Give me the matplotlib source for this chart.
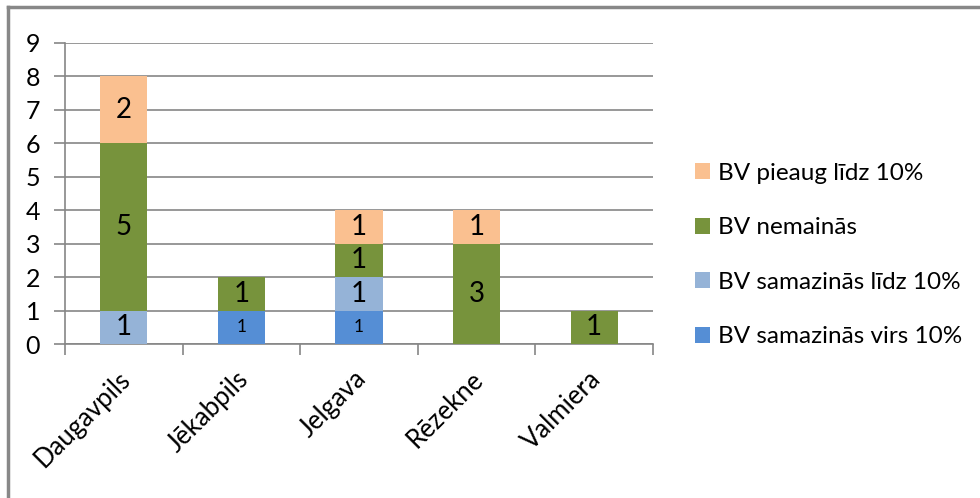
import matplotlib
matplotlib.use("Agg")
import matplotlib.pyplot as plt
import numpy as np
from matplotlib.lines import Line2D
from matplotlib.patches import Patch
from matplotlib.transforms import ScaledTranslation

plt.rcParams['font.family'] = ['Lato', 'DejaVu Sans']

cities = ["Daugavpils", "Jēkabpils", "Jelgava", "Rēzekne", "Valmiera"]
series_names = ["BV samazinās virs 10%", "BV samazinās līdz 10%", "BV nemainās", "BV pieaug līdz 10%"]
samazinas_virs = [0, 1, 1, 0, 0]
samazinas_lidz = [1, 0, 1, 0, 0]
nemainas = [5, 1, 1, 3, 1]
pieaug_lidz = [2, 0, 1, 1, 0]
y_ticks = list(range(0, 10))

values = [samazinas_virs, samazinas_lidz, nemainas, pieaug_lidz]
colors = ["#558ED5", "#95B3D7", "#77933C", "#FAC090"]
label_sizes = [12.5, 20, 20, 20]

fig = plt.figure(figsize=(9.8, 4.98), dpi=100)
ax = fig.add_axes([65 / 980, 1 - 344 / 498, 588 / 980, 301.5 / 498])

x = np.arange(len(cities))
bottom = np.zeros(len(cities))
for vals, col, name, fs in zip(values, colors, series_names, label_sizes):
    vals = np.array(vals, dtype=float)
    ax.bar(x, vals, width=0.4, bottom=bottom, color=col, label=name, zorder=3)
    for xi, b, v in zip(x, bottom, vals):
        if v > 0:
            ax.text(xi, b + v / 2, f"{int(v)}", ha="center", va="center",
                    fontsize=fs, color="black", zorder=4)
    bottom += vals

ax.set_xlim(-0.5, len(cities) - 0.5)
ax.set_ylim(0, 9)
ax.set_yticks(y_ticks)
ax.set_yticklabels([str(t) for t in y_ticks], fontsize=18)
ax.yaxis.grid(True, color="#868686", linewidth=1.2, zorder=0)
ax.set_axisbelow(True)

for s in ["top", "right"]:
    ax.spines[s].set_visible(False)
for s in ["left", "bottom"]:
    ax.spines[s].set_color("#868686")
    ax.spines[s].set_linewidth(1.2)

ax.tick_params(axis="y", length=8, width=1.2, color="#868686", pad=10)
ax.set_xticks(np.arange(-0.5, len(cities), 1.0), minor=False)
ax.set_xticklabels([])
ax.tick_params(axis="x", which="major", length=8, width=1.2, color="#868686")
ax.set_xticks(x, minor=True)
ax.set_xticklabels(cities, minor=True, rotation=45, ha="right", va="top",
                   rotation_mode="anchor", fontsize=18.5)
ax.tick_params(axis="x", which="minor", length=0, pad=16)
shift = ScaledTranslation(-6 / 100, 0, fig.dpi_scale_trans)
for lbl in ax.get_xticklabels(minor=True):
    lbl.set_transform(lbl.get_transform() + shift)

handles = [Patch(facecolor=c, edgecolor="none") for c in colors][::-1]
labels = series_names[::-1]
fig.legend(handles, labels, loc="center left", bbox_to_anchor=(695 / 980, 1 - 255 / 498),
           frameon=False, fontsize=17.5, handlelength=0.62, handleheight=0.62,
           handletextpad=0.33, labelspacing=1.38, borderpad=0, borderaxespad=0)

# frame lines along the top and left edges
fig.add_artist(Line2D([8 / 980, 1.0], [1 - 7 / 498, 1 - 7 / 498], color="#888888",
                      linewidth=2.5, transform=fig.transFigure))
fig.add_artist(Line2D([8 / 980, 8 / 980], [0, 1 - 7 / 498], color="#888888",
                      linewidth=2.5, transform=fig.transFigure))

fig.savefig("out.png", dpi=100, facecolor="white")
